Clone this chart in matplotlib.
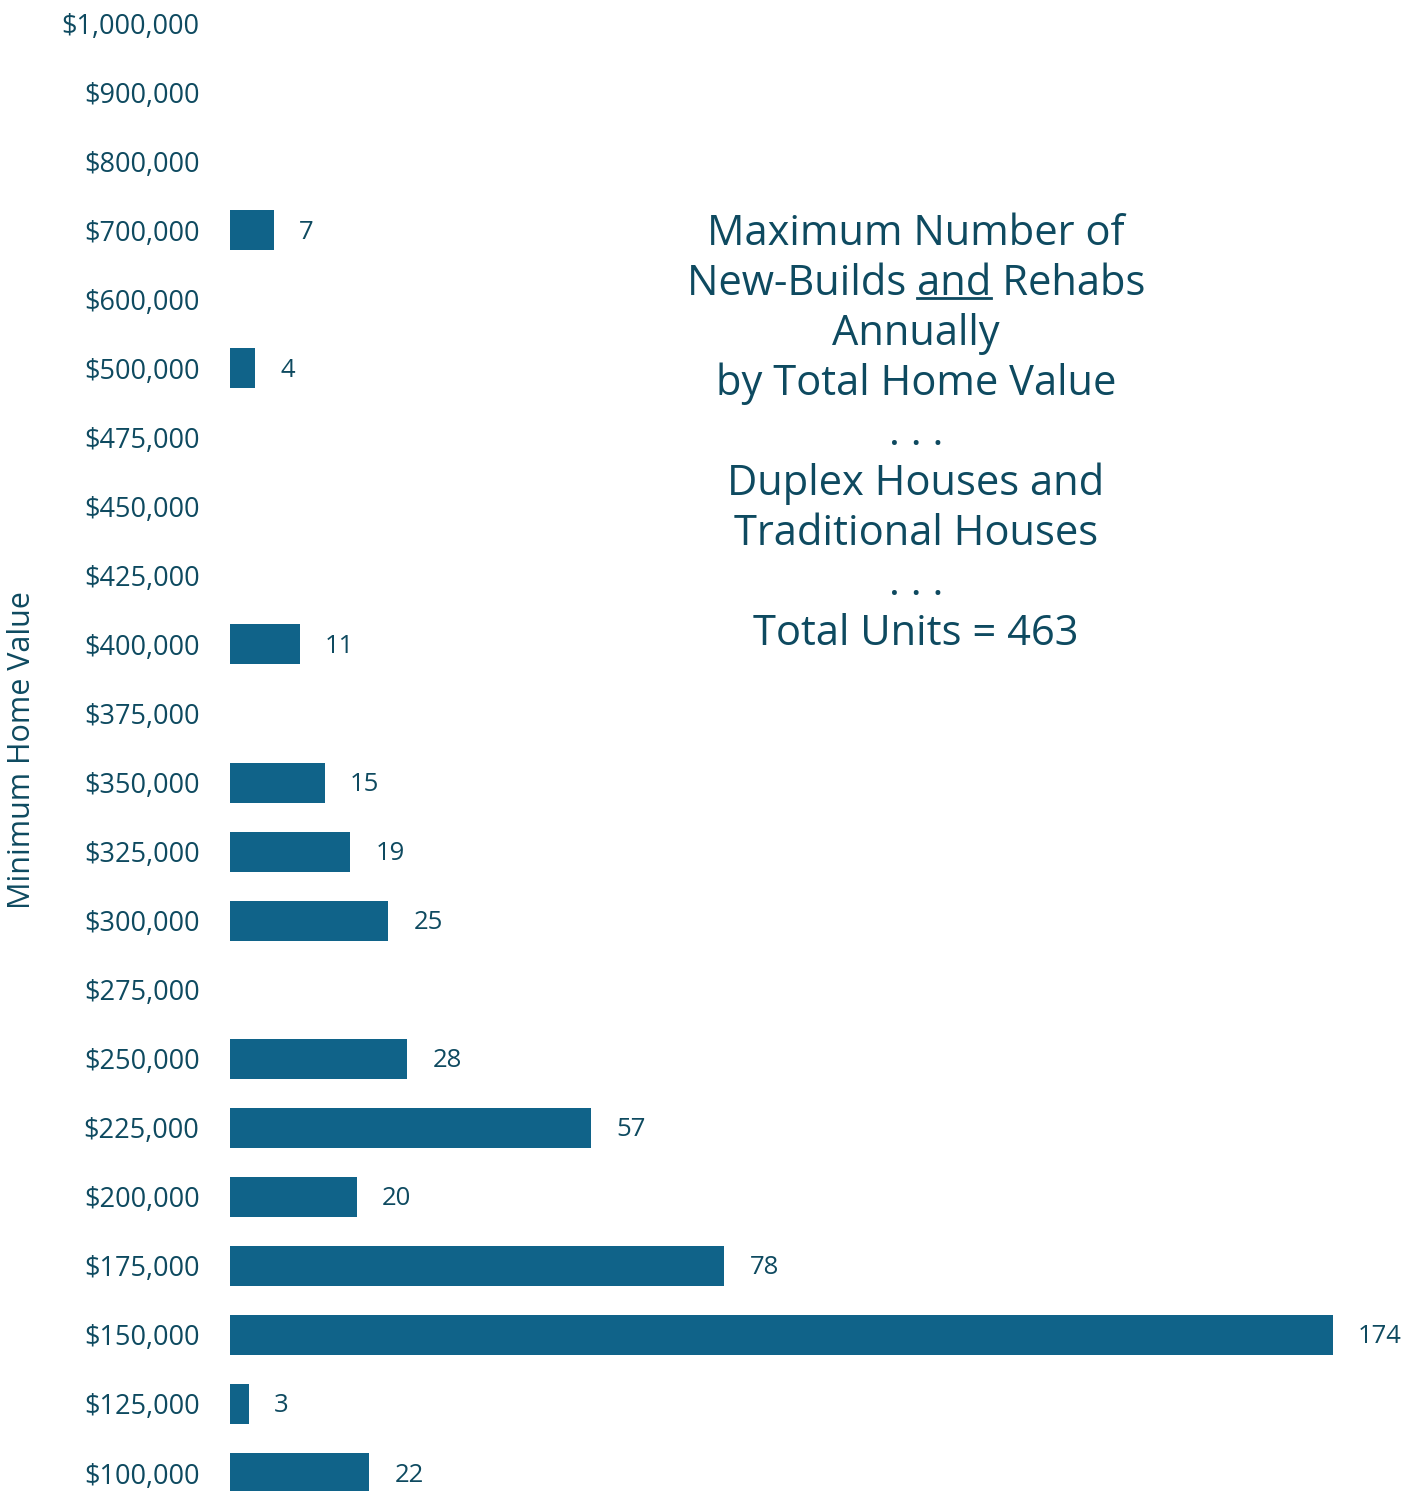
import matplotlib
matplotlib.use("Agg")
import matplotlib.pyplot as plt
from matplotlib.transforms import offset_copy

categories = ["$100,000", "$125,000", "$150,000", "$175,000", "$200,000", "$225,000",
              "$250,000", "$275,000", "$300,000", "$325,000", "$350,000", "$375,000",
              "$400,000", "$425,000", "$450,000", "$475,000", "$500,000", "$600,000",
              "$700,000", "$800,000", "$900,000", "$1,000,000"]
values = [22, 3, 174, 78, 20, 57, 28, None, 25, 19, 15, None, 11, None, None, None, 4, None, 7, None, None, None]

title_lines = ["Maximum Number of", "New-Builds and Rehabs", "Annually",
               "by Total Home Value", ". . .", "Duplex Houses and",
               "Traditional Houses", ". . .", "Total Units = 463"]
ylabel = "Minimum Home Value"

BAR = "#106389"
TXT = "#0e4a60"
FONT = ["Open Sans", "DejaVu Sans"]
plt.rcParams["font.family"] = FONT

W, H = 1419, 1491
fig = plt.figure(figsize=(W / 100, H / 100), dpi=100)
left = 230 / W
ax = fig.add_axes([left, 0, 1 - left, 1])

n = len(categories)
ypos = list(range(n))
bar_vals = [v if v is not None else 0 for v in values]
ax.barh(ypos, bar_vals, height=0.58, color=BAR)
for y, v in zip(ypos, values):
    if v:
        ax.text(v, y, str(v), transform=offset_copy(ax.transData, fig=fig, x=25, y=-2, units="dots"),
                va="center", ha="left", fontsize=18.5, color=TXT)

top_px, bot_px = 23, 1473
step = (bot_px - top_px) / (n - 1)
top_i = (n - 1) + top_px / step
bot_i = (n - 1) - H / step + top_px / step
ax.set_ylim(bot_i, top_i)
ax.set_xlim(0, (W - 230) / ((1333 - 230) / 174))
ax.set_yticks(ypos)
ax.set_yticklabels(categories, fontsize=19.5, color=TXT)
ax.tick_params(axis="y", length=0, pad=22)
ax.set_xticks([])
for s in ax.spines.values():
    s.set_visible(False)

fig.text(22 / W, 1 - 750 / H, ylabel, rotation=90, ha="center", va="center",
         fontsize=22, color=TXT)

cx = 916 / W
ys = [234, 284, 334, 384, 434, 484, 534, 584, 634]
texts = []
FS = 30
for line, y in zip(title_lines, ys):
    t = fig.text(cx, 1 - y / H, line, ha="center", va="center", fontsize=FS, color=TXT)
    texts.append(t)

# underline "and" in line 2
fig.canvas.draw()
r = fig.canvas.get_renderer()
t2 = texts[1]
bb = t2.get_window_extent(r)
pre = fig.text(0, 0, "New-Builds ", fontsize=FS)
wpre = pre.get_window_extent(r).width
pre.remove()
andt = fig.text(0, 0, "and", fontsize=FS)
wand = andt.get_window_extent(r).width
andt.remove()
x0 = bb.x0 + wpre
yline = bb.y0 + 7
fig.add_artist(plt.Line2D([x0 / W, (x0 + wand) / W], [yline / H, yline / H],
                          color=TXT, lw=2, transform=fig.transFigure))

fig.savefig("out.png", dpi=100, facecolor="white")
